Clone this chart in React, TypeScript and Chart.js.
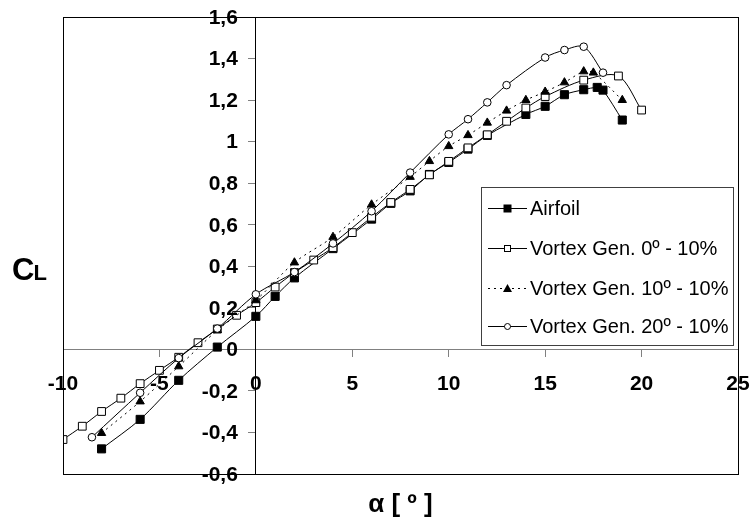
import { useEffect, useRef } from 'react';
import { Chart, registerables } from 'chart.js';

Chart.register(...registerables);

const FONT = "'Liberation Sans', Arial, Helvetica, sans-serif";

// Lift coefficient vs angle of attack
const airfoilAlpha = [-8, -6, -4, -2, 0, 1, 2, 4, 6, 7, 8, 9, 10, 11, 12, 14, 15, 16, 17, 17.7, 18, 19];
const airfoilCL = [-0.479, -0.337, -0.149, 0.011, 0.159, 0.255, 0.344, 0.485, 0.627, 0.703, 0.763, 0.842, 0.9, 0.964, 1.03, 1.131, 1.17, 1.226, 1.25, 1.261, 1.248, 1.104];

const vg0Alpha = [-10, -9, -8, -7, -6, -5, -4, -3, -2, -1, 0, 1, 2, 3, 4, 5, 6, 7, 8, 9, 10, 11, 12, 13, 14, 15, 17, 18.8, 20];
const vg0CL = [-0.434, -0.37, -0.299, -0.235, -0.165, -0.101, -0.038, 0.032, 0.098, 0.164, 0.225, 0.3, 0.37, 0.43, 0.49, 0.562, 0.636, 0.707, 0.77, 0.84, 0.905, 0.97, 1.033, 1.098, 1.162, 1.217, 1.296, 1.316, 1.152];

const vg10Alpha = [-8, -6, -4, -2, 0, 2, 4, 6, 8, 9, 10, 11, 12, 13, 14, 15, 16, 17, 17.5, 19];
const vg10CL = [-0.403, -0.251, -0.082, 0.092, 0.236, 0.418, 0.541, 0.697, 0.83, 0.906, 0.978, 1.031, 1.091, 1.149, 1.2, 1.24, 1.285, 1.338, 1.332, 1.2];

const vg20Alpha = [-8.5, -6, -4, -2, 0, 2, 4, 6, 8, 10, 11, 12, 13, 15, 16, 17, 18];
const vg20CL = [-0.423, -0.209, -0.042, 0.1, 0.265, 0.372, 0.51, 0.665, 0.851, 1.035, 1.108, 1.189, 1.272, 1.405, 1.441, 1.457, 1.332];

const seriesNames = ['Airfoil', 'Vortex Gen. 0º - 10%', 'Vortex Gen. 10º - 10%', 'Vortex Gen. 20º - 10%'];

const xTicks = [-10, -5, 0, 5, 10, 15, 20, 25];
const yTicks = [-0.6, -0.4, -0.2, 0, 0.2, 0.4, 0.6, 0.8, 1, 1.2, 1.4, 1.6];

const xTitle = 'α [ º ]';
const yTitleMain = 'C';
const yTitleSub = 'L';

const toPoints = (xs: number[], ys: number[]) => xs.map((x, i) => ({ x, y: ys[i] }));
const fmt = (v: number) => String(Math.round(v * 10) / 10).replace('.', ',');

// Tick labels sit beside the axes that cross at the origin
const axisLabels = {
  id: 'axisLabels',
  afterDraw(chart: any) {
    const { ctx, scales } = chart;
    const xs = scales.x;
    const ys = scales.y;
    const x0 = xs.getPixelForValue(0);
    const y0 = ys.getPixelForValue(0);
    ctx.save();
    ctx.fillStyle = '#000';
    ctx.font = `bold 21px ${FONT}`;
    ctx.textBaseline = 'middle';
    ctx.textAlign = 'right';
    yTicks.forEach((v) => ctx.fillText(fmt(v), x0 - 18, ys.getPixelForValue(v) + 1));
    ctx.textAlign = 'center';
    xTicks.forEach((v) => ctx.fillText(fmt(v), xs.getPixelForValue(v), y0 + 35));
    ctx.restore();
  },
};

const frameAndLegend = {
  id: 'frameAndLegend',
  afterDatasetsDraw(chart: any) {
    const { ctx, chartArea: a } = chart;
    ctx.save();

    // plot frame
    ctx.strokeStyle = '#000';
    ctx.lineWidth = 1;
    ctx.strokeRect(Math.round(a.left) + 0.5, Math.round(a.top) + 0.5, Math.round(a.right - a.left), Math.round(a.bottom - a.top));

    // legend box
    const bx = 481.5, by = 187.5, bw = 252, bh = 158;
    ctx.fillStyle = '#fff';
    ctx.fillRect(bx, by, bw, bh);
    ctx.strokeStyle = '#404040';
    ctx.strokeRect(bx, by, bw, bh);

    const rows = [208, 248, 288, 326];
    const x0 = 488, x1 = 527, cx = (x0 + x1) / 2;
    ctx.font = `20px ${FONT}`;
    ctx.textBaseline = 'middle';
    ctx.textAlign = 'left';
    rows.forEach((ry, i) => {
      ctx.strokeStyle = '#000';
      ctx.lineWidth = 1;
      ctx.setLineDash(i === 2 ? [2, 4] : []);
      ctx.beginPath();
      ctx.moveTo(x0, ry + 0.5);
      ctx.lineTo(x1, ry + 0.5);
      ctx.stroke();
      ctx.setLineDash([]);
      if (i === 0) {
        ctx.fillStyle = '#000';
        ctx.fillRect(cx - 4, ry - 3.5, 8, 8);
      } else if (i === 1) {
        ctx.fillStyle = '#fff';
        ctx.fillRect(cx - 3, ry - 2.5, 6, 6);
        ctx.strokeRect(cx - 3, ry - 2.5, 6, 6);
      } else if (i === 2) {
        ctx.fillStyle = '#000';
        ctx.beginPath();
        ctx.moveTo(cx, ry - 4);
        ctx.lineTo(cx + 4.5, ry + 4);
        ctx.lineTo(cx - 4.5, ry + 4);
        ctx.closePath();
        ctx.fill();
      } else {
        ctx.fillStyle = '#fff';
        ctx.beginPath();
        ctx.arc(cx, ry + 0.5, 3, 0, Math.PI * 2);
        ctx.fill();
        ctx.stroke();
      }
      ctx.fillStyle = '#000';
      ctx.fillText(seriesNames[i], 530, ry + 1);
    });

    // axis titles
    ctx.fillStyle = '#000';
    ctx.textBaseline = 'alphabetic';
    ctx.textAlign = 'left';
    ctx.font = `bold 31px ${FONT}`;
    ctx.fillText(yTitleMain, 12, 280);
    const cw = ctx.measureText(yTitleMain).width;
    ctx.font = `bold 22px ${FONT}`;
    ctx.fillText(yTitleSub, 11 + cw, 280);

    ctx.textAlign = 'center';
    ctx.font = `bold 26px ${FONT}`;
    ctx.fillText(xTitle, (a.left + a.right) / 2, 512);

    ctx.restore();
  },
};

export default function App() {
  const canvasRef = useRef<HTMLCanvasElement | null>(null);

  useEffect(() => {
    document.body.style.margin = '0';
    const canvas = canvasRef.current;
    if (!canvas) return;

    const line = {
      borderColor: '#000',
      borderWidth: 1,
      showLine: true,
      fill: false,
      tension: 0.3,
      pointBorderColor: '#000',
      pointBorderWidth: 1,
      pointHoverRadius: 0,
    };

    const chart = new Chart(canvas, {
      type: 'scatter',
      data: {
        datasets: [
          {
            ...line,
            label: seriesNames[0],
            data: toPoints(airfoilAlpha, airfoilCL),
            pointStyle: 'rect',
            pointRadius: 5.7,
            pointBackgroundColor: '#000',
            order: 4,
          },
          {
            ...line,
            label: seriesNames[1],
            data: toPoints(vg0Alpha, vg0CL),
            pointStyle: 'rect',
            pointRadius: 5.5,
            pointBackgroundColor: '#fff',
            order: 3,
          },
          {
            ...line,
            label: seriesNames[2],
            data: toPoints(vg10Alpha, vg10CL),
            borderDash: [2, 4],
            pointStyle: 'triangle',
            pointRadius: 4.8,
            pointBackgroundColor: '#000',
            order: 2,
          },
          {
            ...line,
            label: seriesNames[3],
            data: toPoints(vg20Alpha, vg20CL),
            pointStyle: 'circle',
            pointRadius: 3.8,
            pointBackgroundColor: '#fff',
            order: 1,
          },
        ],
      },
      options: {
        responsive: false,
        animation: false,
        devicePixelRatio: 1,
        layout: { padding: { left: 63, right: 14, top: 17, bottom: 49 } },
        plugins: {
          legend: { display: false },
          tooltip: { enabled: false },
        },
        scales: {
          x: {
            type: 'linear',
            min: -10,
            max: 25,
            position: { y: 0 },
            afterBuildTicks: (axis: any) => {
              axis.ticks = xTicks.map((value) => ({ value }));
            },
            grid: { drawOnChartArea: false, drawTicks: true, tickLength: 7, tickColor: '#808080', tickWidth: 1 },
            border: { display: true, color: '#808080', width: 1 },
            ticks: { display: false },
          },
          y: {
            type: 'linear',
            min: -0.6,
            max: 1.6,
            position: { x: 0 },
            afterBuildTicks: (axis: any) => {
              axis.ticks = yTicks.map((value) => ({ value }));
            },
            grid: { drawOnChartArea: false, drawTicks: true, tickLength: 7, tickColor: '#808080', tickWidth: 1 },
            border: { display: true, color: '#000', width: 1 },
            ticks: { display: false },
          },
        },
      },
      plugins: [frameAndLegend, axisLabels],
    } as any);

    return () => chart.destroy();
  }, []);

  return (
    <div style={{ width: 752, height: 523 }}>
      <canvas ref={canvasRef} width={752} height={523} />
    </div>
  );
}
